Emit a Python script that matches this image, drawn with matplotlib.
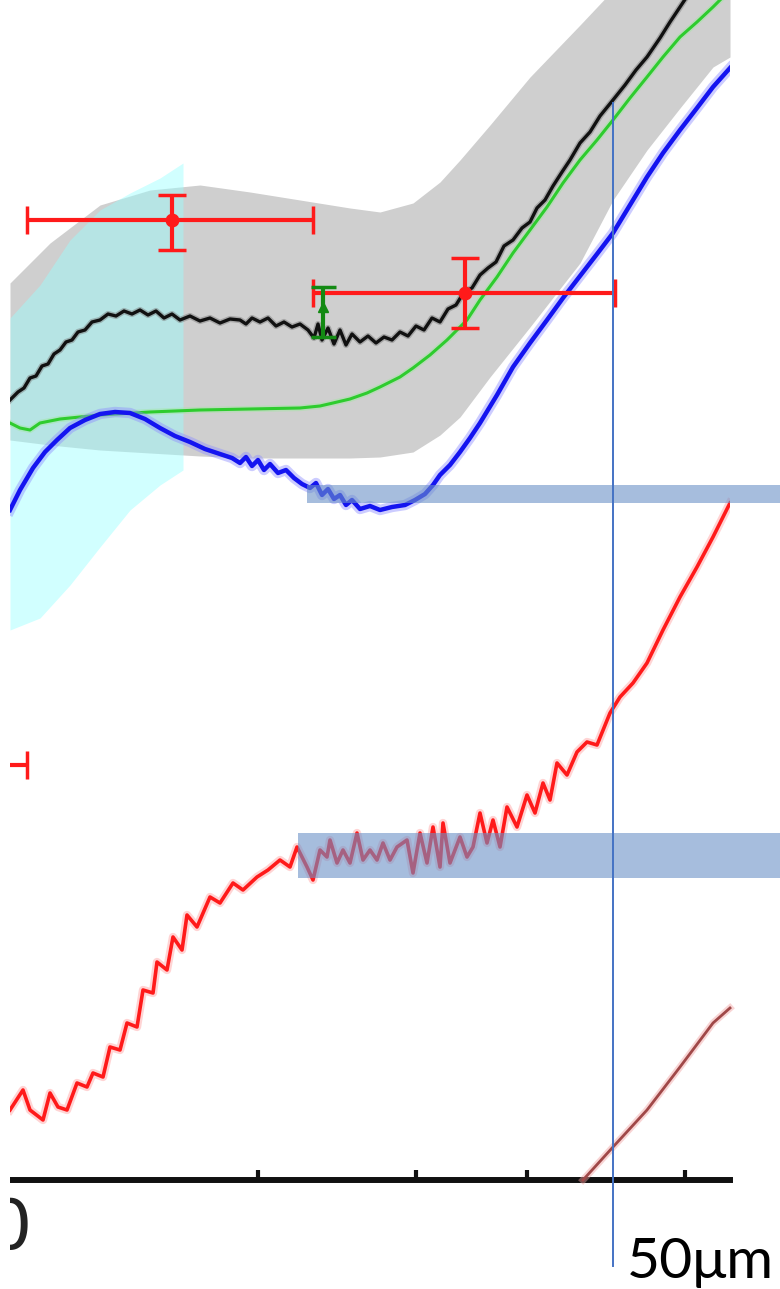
import matplotlib
matplotlib.use("Agg")
import matplotlib.pyplot as plt
import matplotlib.patheffects as pe
from matplotlib.patches import Rectangle

# ---- data -------------------------------------------------------------
# envelope of the measured profile (gray band)
band_x = [0, 4, 9, 14, 19, 24, 29, 34, 37, 40.3, 43, 45, 48, 52, 57, 60.3, 63.7, 67, 70.3, 72]
band_lo = [74.0, 73.5, 73.0, 72.7, 72.4, 72.2, 72.2, 72.2, 72.3, 72.8, 74.5, 76.3, 80.3, 85.3,
           91.7, 98.0, 103.0, 107.2, 111.3, 112.3]
band_hi = [89.7, 93.7, 97.5, 99.0, 99.5, 98.8, 98.0, 97.2, 96.8, 97.7, 99.8, 102.0, 105.5, 110.3,
           115.5, 119.0, 123.0, 127.0, 131.0, 133.0]

# near-surface uncertainty region (cyan)
shade_x = [0, 3, 6, 9, 12, 15, 17.3]
shade_lo = [55.0, 56.2, 59.5, 63.3, 67.0, 69.5, 71.0]
shade_hi = [86.2, 89.5, 94.0, 97.0, 98.7, 100.2, 101.7]

# measured profile (black)
meas_x = [0, 0.8, 1.4, 2.0, 2.6, 3.2, 3.8, 4.4, 5.0, 5.6, 6.2, 6.8, 7.5, 8.2, 9.0, 9.8, 10.6, 11.4,
          12.2, 13.0, 13.8, 14.6, 15.4, 16.2, 17.0, 18.0, 19.0, 20.0, 21.0, 22.0, 23.0, 23.6, 24.2,
          25.0, 25.8, 26.6, 27.4, 28.2, 29.0, 29.8, 30.4, 30.8, 31.2, 31.8, 32.4, 33.0, 33.6, 34.2,
          35.0, 35.8, 36.6, 37.4, 38.2, 39.0, 39.8, 40.6, 41.4, 42.2, 43.0, 43.8, 44.6, 45.4, 46.2,
          47.0, 47.8, 48.6, 49.4, 50.3, 51.2, 52.0, 52.7, 53.5, 54.3, 55.2, 56.0, 57.0, 58.0, 59.0,
          60.3, 61.5, 62.6, 63.7, 65.0, 66.0, 67.0, 68.0]
meas_y = [78.0, 78.8, 79.2, 80.2, 80.4, 81.4, 81.6, 82.6, 83.0, 83.8, 84.0, 84.8, 85.0, 85.8, 86.0,
          86.6, 86.4, 86.9, 86.6, 87.0, 86.5, 86.9, 86.2, 86.6, 86.0, 86.4, 85.9, 86.2, 85.7, 86.1,
          86.0, 85.6, 86.2, 85.8, 86.2, 85.4, 85.8, 85.3, 85.6, 85.0, 84.2, 85.6, 84.0, 85.2, 83.6,
          85.0, 83.5, 84.6, 83.8, 84.4, 83.7, 84.3, 84.0, 84.8, 84.4, 85.4, 85.0, 86.2, 85.8, 87.1,
          87.5, 88.8, 89.2, 90.5, 91.2, 91.8, 93.4, 94.0, 95.2, 95.8, 97.2, 98.0, 99.4, 100.8, 102.0,
          103.7, 104.8, 106.4, 108.0, 109.5, 111.0, 112.3, 114.2, 115.8, 117.3, 118.8]

# model fit (green)
fit_x = [0, 1, 2, 3, 5, 9, 14, 19, 24, 29, 31, 32.3, 34, 35.7, 37, 39, 40.3, 42, 43.7, 45.7, 47,
         48.7, 50.3, 52, 53.7, 55.3, 57, 58.7, 60.3, 62, 63.7, 65.3, 67, 68.7, 70.3, 71.3]
fit_y = [75.7, 75.2, 75.0, 75.7, 76.1, 76.5, 76.8, 77.0, 77.1, 77.2, 77.4, 77.7, 78.1, 78.7, 79.3,
         80.3, 81.2, 82.5, 84.0, 86.0, 88.0, 90.3, 92.7, 95.0, 97.3, 99.7, 102.0, 104.0, 106.0,
         108.2, 110.3, 112.3, 114.3, 115.8, 117.3, 118.3]

# simulated profile (blue)
sim_x = [0, 1.0, 2.3, 3.5, 4.7, 6.0, 7.5, 9.0, 10.5, 12.0, 13.5, 15.0, 16.5, 18.0, 19.5, 21.0,
         22.2, 23.0, 23.6, 24.2, 24.8, 25.4, 26.0, 26.8, 27.6, 28.4, 29.2, 30.0, 30.6, 31.2, 31.8,
         32.4, 33.0, 33.6, 34.2, 35.0, 36.0, 37.0, 38.2, 39.5, 40.5, 41.5, 42.3, 43.0, 44.0, 45.0,
         46.0, 47.0, 48.7, 50.3, 52.0, 53.7, 55.3, 57.0, 58.7, 60.3, 62.0, 63.7, 65.3, 67.0, 68.7,
         70.3, 72.0]
sim_y = [67.0, 69.0, 71.2, 72.8, 74.0, 75.2, 76.0, 76.6, 76.8, 76.7, 76.1, 75.2, 74.4, 73.8, 73.1,
         72.6, 72.2, 71.7, 72.3, 71.4, 72.0, 71.0, 71.6, 70.7, 71.0, 70.2, 69.6, 69.2, 69.7, 68.5,
         69.1, 68.1, 68.5, 67.5, 68.0, 67.1, 67.4, 67.0, 67.3, 67.5, 68.0, 68.6, 69.5, 70.5, 71.5,
         72.8, 74.2, 75.7, 78.5, 81.3, 83.7, 86.0, 88.2, 90.4, 92.6, 94.7, 97.5, 100.3, 102.7,
         105.0, 107.2, 109.3, 111.2]

# residual trace (red)
res_x = [0, 1.3, 2.0, 3.3, 4.0, 4.8, 5.7, 6.7, 7.7, 8.3, 9.3, 10.0, 11.0, 11.7, 12.7, 13.3, 14.3,
         14.7, 15.7, 16.3, 17.2, 17.7, 18.7, 20.0, 21.0, 22.3, 23.3, 24.7, 25.8, 27.0, 28.0, 28.7,
         29.7, 30.3, 31.0, 31.7, 32.0, 32.7, 33.3, 34.0, 34.7, 35.3, 36.0, 36.7, 37.3, 38.0, 38.7,
         39.7, 40.3, 41.0, 41.7, 42.3, 43.0, 43.3, 44.0, 45.0, 45.7, 46.3, 47.0, 47.7, 48.3, 49.0,
         49.7, 50.7, 51.7, 52.5, 53.3, 54.0, 54.7, 55.7, 56.7, 57.7, 58.7, 60.0, 61.0, 62.3, 63.7,
         65.3, 67.0, 68.7, 70.3, 72.0]
res_y = [7.0, 9.0, 7.0, 6.0, 8.7, 7.3, 7.0, 9.7, 9.3, 10.7, 10.3, 13.3, 13.0, 15.7, 15.3, 19.0,
         18.7, 21.8, 21.0, 24.3, 23.0, 26.5, 25.3, 28.3, 27.7, 29.7, 29.0, 30.3, 31.0, 32.0, 31.3,
         33.3, 31.3, 30.0, 33.0, 32.3, 34.0, 31.7, 33.0, 31.7, 34.7, 32.0, 33.0, 32.0, 33.7, 32.0,
         33.3, 34.0, 30.7, 34.7, 31.7, 35.3, 31.3, 35.7, 31.7, 34.3, 32.3, 33.3, 36.7, 33.7, 36.0,
         33.3, 37.3, 35.3, 38.5, 36.7, 39.7, 38.0, 41.7, 40.5, 42.8, 43.8, 43.5, 46.7, 48.3, 49.7,
         51.7, 55.0, 58.3, 61.3, 64.3, 67.7]

# onset trace (dark red)
onset_x = [57.3, 60.3, 63.7, 67.0, 70.3, 72.0]
onset_y = [0.0, 3.3, 7.0, 11.3, 15.7, 17.2]

# binned averages with spread (red error bars)
pt_x = [16.2, 45.5, -12.0]
pt_y = [96.0, 88.7, 41.5]
pt_xlo = [1.7, 30.3, -26.0]
pt_xhi = [30.3, 60.5, 1.7]
pt_ylo = [93.0, 85.2, 41.5]
pt_yhi = [98.5, 92.2, 41.5]

# reference point (green)
ref_x = [31.3]
ref_y = [87.3]
ref_ylo = [84.3]
ref_yhi = [89.3]

# highlighted depth ranges
hl_x0 = [29.7, 28.8]
hl_y0 = [67.7, 30.2]
hl_y1 = [69.5, 34.7]

# axis ticks and scale bar
tick_pos = [24.8, 40.6, 51.7, 67.5]
bar_x = 60.3
bar_y = [-8.6, 107.7]
bar_label = "50μm"

# ---- figure -----------------------------------------------------------
W, H = 780, 1289
fig = plt.figure(figsize=(W / 100, H / 100), dpi=100)
ax = fig.add_axes([10 / W, 109 / H, 720 / W, 1180 / H])
ax.set_xlim(0, 72)
ax.set_ylim(0, 118)
for s in ("top", "left", "right"):
    ax.spines[s].set_visible(False)
ax.spines["bottom"].set_linewidth(4.3)
ax.spines["bottom"].set_color("#111111")
ax.set_yticks([])
ax.set_xticks(tick_pos)
ax.set_xticklabels([])
ax.tick_params(axis="x", direction="in", length=7, width=3.0, color="#111111")

# bands
ax.fill_between(band_x, band_lo, band_hi, color="#cfcfcf", lw=0, zorder=1)
ax.fill_between(shade_x, shade_lo, shade_hi, color="#99ffff", alpha=0.45, lw=0, zorder=2)


def soft(color, width):
    return [pe.Stroke(linewidth=width, foreground=color, alpha=0.45), pe.Normal()]


ax.plot(fit_x, fit_y, color="#2ecc2e", lw=2.2, zorder=3,
        path_effects=soft("#9fe89f", 4.5))
ax.plot(sim_x, sim_y, color="#1414f0", lw=3.2, zorder=4,
        path_effects=soft("#8f8fff", 7.5))
ax.plot(meas_x, meas_y, color="#111111", lw=2.4, zorder=5,
        path_effects=soft("#777777", 4.5))
ax.plot(res_x, res_y, color="#ff1a1a", lw=2.6, zorder=4,
        path_effects=soft("#ffa0a0", 6))
ax.plot(onset_x, onset_y, color="#a04848", lw=2.0, zorder=4, clip_on=False,
        path_effects=soft("#f0a0a0", 5))

# error bars
xerr = [[c - lo for c, lo in zip(pt_x, pt_xlo)], [hi - c for c, hi in zip(pt_x, pt_xhi)]]
yerr = [[c - lo for c, lo in zip(pt_y, pt_ylo)], [hi - c for c, hi in zip(pt_y, pt_yhi)]]
ax.errorbar(pt_x, pt_y, xerr=xerr, yerr=yerr, fmt="o", color="#ff1a1a", ms=9,
            elinewidth=3, capsize=10, capthick=2.5, zorder=6)
ax.errorbar(ref_x, ref_y,
            yerr=[[ref_y[0] - ref_ylo[0]], [ref_yhi[0] - ref_y[0]]],
            fmt="^", color="#138a13", ms=7, elinewidth=3, capsize=9, capthick=2.5, zorder=6)

# highlight bars reaching past the plot edge
for x0, y0, y1 in zip(hl_x0, hl_y0, hl_y1):
    ax.add_patch(Rectangle((x0, y0), 80 - x0, y1 - y0, facecolor=(0.42, 0.57, 0.78),
                           alpha=0.6, lw=0, zorder=7, clip_on=False))

# scale bar
ax.plot([bar_x, bar_x], bar_y, color="#4472c4", lw=1.4, zorder=8, clip_on=False)
ax.text(bar_x + 1.4, bar_y[0] - 1.2, bar_label, fontsize=41, family="Lato",
        ha="left", va="baseline", color="black", clip_on=False)

# tick label at the origin (its left half falls in the blank margin)
ax.text(0, -1.6, "0", fontsize=50, ha="center", va="top", color="#222222", clip_on=False)

# left margin
fig.add_artist(Rectangle((0, 0), 10 / W, 1, transform=fig.transFigure,
                         facecolor="white", lw=0, zorder=100))

fig.savefig("out.png", dpi=100, facecolor="white")
